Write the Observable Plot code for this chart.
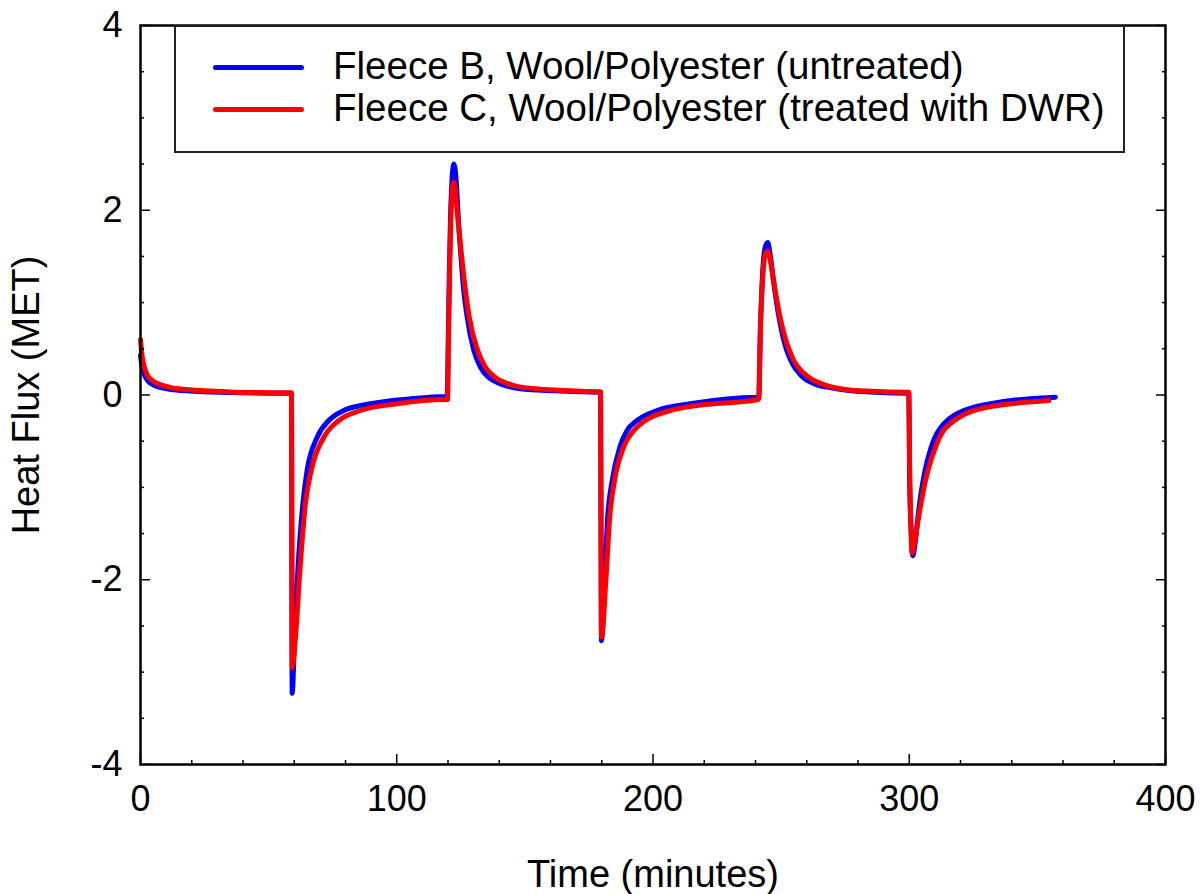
<!DOCTYPE html>
<html>
<head>
<meta charset="utf-8">
<script src="https://cdn.jsdelivr.net/npm/d3@7"></script>
<script src="https://cdn.jsdelivr.net/npm/@observablehq/plot@0.6"></script>
<style>
  html, body { margin: 0; padding: 0; background: #fff; }
  #wrap { position: relative; width: 1202px; height: 894px; font-family: "Liberation Sans", Arial, sans-serif; }
  #legend { position: absolute; left: 174px; top: 25px; width: 947px; height: 124px; border: 2px solid #222; background: #fff; }
  .row { position: absolute; left: 0; height: 40px; }
  .sw { position: absolute; left: 37px; width: 91px; height: 5px; border-radius: 3px; }
  .lab { position: absolute; left: 157px; font-size: 38.5px; line-height: 40px; white-space: nowrap; color: #000; }
</style>
</head>
<body>
<div id="wrap"></div>
<script>
// ---- Data ----
const seriesNames = ["Fleece B, Wool/Polyester (untreated)", "Fleece C, Wool/Polyester (treated with DWR)"];
const seriesColors = ["#0000ff", "#ff0000"];

// Fleece B (blue)
const timeB = [0,0.5,1,2,3,5,8,12,18,25,35,45,55,58.9,
  59.2,60.1,61.4,63.4,65.0,68.9,73.5,79.3,89.7,105.4,119.5,
  119.7,120.1,120.5,121.0,121.5,122.0,122.3,123.3,124.0,124.9,125.9,127.5,130.1,132.7,135.9,140.5,148.3,161.3,179.3,
  179.5,179.9,181.1,182.4,184.1,187.1,189.9,193.8,201.6,214.6,240.8,
  241.3,241.6,241.9,242.4,243.0,243.8,244.8,245.5,246.2,247.0,247.8,248.8,249.8,250.8,251.9,253.2,254.8,256.9,259.0,261.5,264.5,268.0,275.8,287.0,299.6,
  299.8,300.2,300.7,301.4,302.3,303.4,304.4,305.4,306.9,308.5,310.0,311.6,313.2,314.8,317.5,321.3,326.0,331.7,340.0,347.3,357.0];
const fluxB = [0.43,0.32,0.26,0.19,0.15,0.11,0.08,0.06,0.045,0.035,0.027,0.022,0.02,0.02,
  -3.23,-2.62,-1.90,-1.17,-0.82,-0.46,-0.276,-0.168,-0.095,-0.041,-0.016,
  -0.016,0.6,1.3,1.95,2.3,2.47,2.5,2.28,1.92,1.56,1.2,0.84,0.48,0.30,0.19,0.12,0.067,0.045,0.03,
  0.03,-2.66,-2.01,-1.29,-0.925,-0.56,-0.384,-0.276,-0.168,-0.095,-0.024,
  -0.024,0.3,0.7,1.1,1.42,1.6,1.65,1.56,1.42,1.24,1.08,0.9,0.75,0.62,0.51,0.41,0.32,0.24,0.18,0.14,0.105,0.085,0.05,0.03,0.02,
  0.02,-1.0,-1.43,-1.74,-1.6,-1.32,-1.1,-0.93,-0.73,-0.57,-0.46,-0.38,-0.32,-0.276,-0.22,-0.168,-0.125,-0.095,-0.06,-0.041,-0.024];

// Fleece C (red)
const timeC = [0,0.5,1,2,3,5,8,12,18,25,35,45,55,58.9,
  59.2,60.5,62.2,64.4,66.6,71.5,77.4,85.8,100.2,118.4,119.6,
  119.8,120.2,120.6,121.1,121.6,122.0,122.3,123.8,125.1,126.5,128.3,131.6,134.6,138.5,143.7,148.3,165,179.3,
  179.5,179.9,181.6,183.2,185.0,188.6,192.5,197.0,206.8,217.2,240.8,
  241.3,241.6,241.9,242.4,243.0,243.8,244.8,245.7,246.6,247.5,248.5,249.6,250.8,252.0,253.3,255.0,257.0,259.5,262.0,265.0,269.3,275.0,285.0,299.6,
  299.8,300.2,300.6,301.1,302.2,303.2,304.1,305.2,306.3,308.2,310.2,311.8,313.4,315.4,317.4,320.5,324.5,333.0,343.0,354.5];
const fluxC = [0.6,0.45,0.36,0.26,0.2,0.15,0.11,0.08,0.06,0.045,0.033,0.027,0.024,0.024,
  -2.95,-2.62,-1.90,-1.17,-0.82,-0.46,-0.276,-0.168,-0.095,-0.05,-0.05,
  -0.05,0.6,1.3,1.9,2.2,2.29,2.3,1.92,1.56,1.2,0.84,0.48,0.30,0.19,0.12,0.085,0.05,0.035,
  0.035,-2.62,-2.01,-1.29,-0.925,-0.56,-0.384,-0.276,-0.168,-0.114,-0.052,
  -0.04,0.3,0.7,1.05,1.35,1.52,1.56,1.47,1.32,1.16,1.0,0.84,0.70,0.58,0.48,0.37,0.29,0.22,0.17,0.13,0.09,0.06,0.04,0.03,
  0.03,-0.9,-1.4,-1.71,-1.58,-1.4,-1.25,-1.08,-0.93,-0.73,-0.57,-0.46,-0.385,-0.325,-0.28,-0.225,-0.175,-0.12,-0.085,-0.06];

const xTicks = [0, 100, 200, 300, 400];
const xMinorTicks = [20,40,60,80,120,140,160,180,220,240,260,280,320,340,360,380];
const yTicks = [-4, -2, 0, 2, 4];
const yMinorTicks = [-3.5,-3,-2.5,-1.5,-1,-0.5,0.5,1,1.5,2.5,3,3.5];
const xLabel = "Time (minutes)";
const yLabel = "Heat Flux (MET)";

// ---- Build table ----
const rowsB = timeB.map((t, i) => ({t, v: fluxB[i], s: seriesNames[0]}));
const rowsC = timeC.map((t, i) => ({t, v: fluxC[i], s: seriesNames[1]}));

const font = '"Liberation Sans", Arial, sans-serif';
const tickOnly = (size) => ({tickSize: size, fill: "none", label: null, strokeWidth: 1.5, stroke: "#000"});
const textOnly = (pad) => ({tickSize: 0, tickPadding: pad, label: null, tickFormat: d => String(d), fontSize: 36, fill: "#000"});

const chart = Plot.plot({
  width: 1202,
  height: 894,
  marginLeft: 140,
  marginRight: 37,
  marginTop: 25,
  marginBottom: 130,
  style: {fontFamily: font, fontSize: "36px", color: "#000", background: "#fff"},
  x: {domain: [0, 400], axis: null},
  y: {domain: [-4, 4], axis: null},
  marks: [
    Plot.line(rowsB, {x: "t", y: "v", stroke: seriesColors[0], strokeWidth: 5, curve: "monotone-x", strokeLinejoin: "round", strokeLinecap: "round"}),
    Plot.line(rowsC, {x: "t", y: "v", stroke: seriesColors[1], strokeWidth: 5, curve: "monotone-x", strokeLinejoin: "round", strokeLinecap: "round"}),
    // ticks (inward)
    Plot.axisX(xTicks, {anchor: "bottom", ...tickOnly(-10)}),
    Plot.axisX(xMinorTicks, {anchor: "bottom", ...tickOnly(-4)}),
    Plot.axisY(yTicks, {anchor: "left", ...tickOnly(-10)}),
    Plot.axisY(yMinorTicks, {anchor: "left", ...tickOnly(-4)}),
    Plot.axisY(yTicks, {anchor: "right", ...tickOnly(-10)}),
    Plot.axisY(yMinorTicks, {anchor: "right", ...tickOnly(-4)}),
    // tick labels
    Plot.axisX(xTicks, {anchor: "bottom", ...textOnly(21)}),
    Plot.axisY(yTicks, {anchor: "left", ...textOnly(18)}),
    // axis titles
    Plot.text([xLabel], {frameAnchor: "bottom", dy: 110, lineAnchor: "middle", textAnchor: "middle", fontSize: 38, fill: "#000"}),
    Plot.text([yLabel], {frameAnchor: "left", dx: -114, rotate: -90, lineAnchor: "middle", textAnchor: "middle", fontSize: 38, fill: "#000"}),
    Plot.frame({stroke: "#000", strokeWidth: 2.5})
  ]
});

const wrap = document.getElementById("wrap");
wrap.appendChild(chart);

// ---- Legend (HTML overlay) ----
const legend = document.createElement("div");
legend.id = "legend";
seriesNames.forEach((name, i) => {
  const row = document.createElement("div");
  row.className = "row";
  row.style.top = (i === 0 ? 20 : 62) + "px";
  row.style.width = "100%";
  const sw = document.createElement("div");
  sw.className = "sw";
  sw.style.background = seriesColors[i];
  sw.style.top = "18px";
  const lab = document.createElement("div");
  lab.className = "lab";
  lab.style.top = "-1px";
  lab.textContent = name;
  row.appendChild(sw);
  row.appendChild(lab);
  legend.appendChild(row);
});
wrap.appendChild(legend);
</script>
</body>
</html>
